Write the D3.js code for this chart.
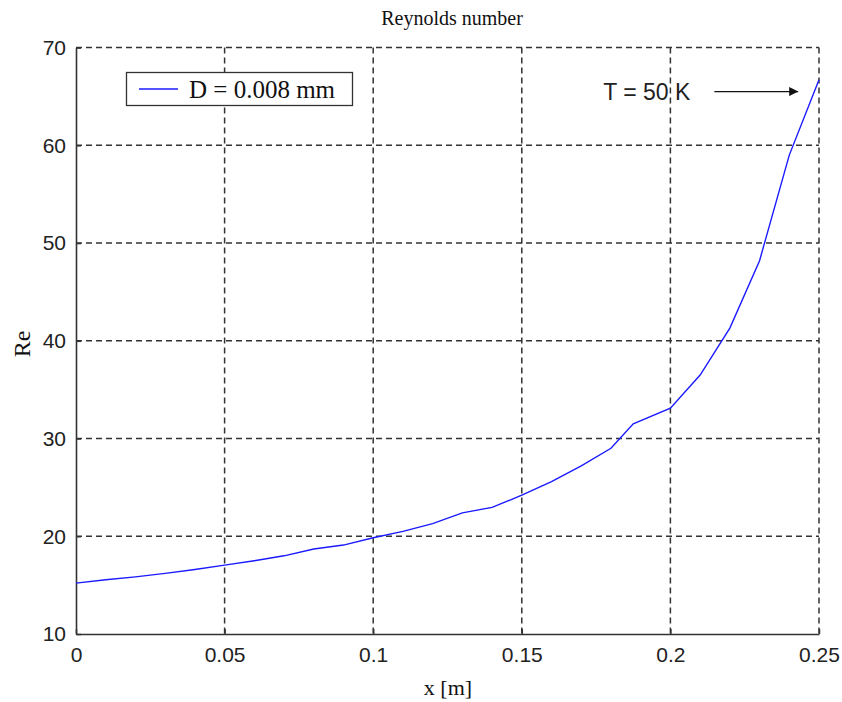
<!DOCTYPE html>
<html>
<head>
<meta charset="utf-8">
<script src="https://cdn.jsdelivr.net/npm/d3@7"></script>
<style>
  html, body { margin: 0; padding: 0; background: #fff; }
  svg { display: block; }
</style>
</head>
<body>
<svg id="chart" width="842" height="702"></svg>
<script>
// Reynolds number along the channel, D = 0.008 mm
const xPos = [0, 0.01, 0.02, 0.03, 0.04, 0.05, 0.06, 0.07, 0.08, 0.09,
              0.10, 0.11, 0.12, 0.13, 0.14, 0.15, 0.16, 0.17, 0.18, 0.1875,
              0.20, 0.21, 0.22, 0.23, 0.24, 0.25];
const reValues = [15.2, 15.55, 15.85, 16.2, 16.6, 17.05, 17.5, 18.0, 18.7, 19.1,
                  19.85, 20.5, 21.3, 22.4, 22.95, 24.2, 25.6, 27.2, 29.0, 31.5,
                  33.1, 36.5, 41.3, 48.2, 59.0, 66.7];
const xTicks = [0, 0.05, 0.1, 0.15, 0.2, 0.25];
const xTickLabels = ["0", "0.05", "0.1", "0.15", "0.2", "0.25"];
const yTicks = [10, 20, 30, 40, 50, 60, 70];
const legendLabel = "D = 0.008 mm";
const noteText = "T = 50 K";
const noteArrowX = [0.2148, 0.2430];
const noteArrowY = 65.5;
const noteTextPos = [0.1774, 64.6];

const svg = d3.select("#chart");
const plotLeft = 76, plotRight = 819, plotTop = 47.6, plotBottom = 634;

const x = d3.scaleLinear().domain([0, 0.25]).range([plotLeft, plotRight]);
const y = d3.scaleLinear().domain([10, 70]).range([plotBottom, plotTop]);

const gridColor = "#333";
const sans = "'Liberation Sans', Arial, sans-serif";
const serif = "'Liberation Serif', 'Times New Roman', serif";

// dashed grid (includes top and right edges)
svg.append("g").selectAll("line").data(xTicks.slice(1)).join("line")
  .attr("x1", d => x(d)).attr("x2", d => x(d))
  .attr("y1", plotTop).attr("y2", plotBottom)
  .attr("stroke", gridColor).attr("stroke-width", 1.5)
  .attr("stroke-dasharray", "6,4");
svg.append("g").selectAll("line").data(yTicks.slice(1)).join("line")
  .attr("x1", plotLeft).attr("x2", plotRight)
  .attr("y1", d => y(d)).attr("y2", d => y(d))
  .attr("stroke", gridColor).attr("stroke-width", 1.5)
  .attr("stroke-dasharray", "6,4");

// axes with inward ticks
const xAxis = d3.axisBottom(x).tickValues(xTicks)
  .tickFormat((d, i) => xTickLabels[i]).tickSizeInner(-5).tickSizeOuter(0).tickPadding(13);
const yAxis = d3.axisLeft(y).tickValues(yTicks)
  .tickFormat(d3.format("d")).tickSizeInner(-5).tickSizeOuter(0).tickPadding(10);

const gx = svg.append("g").attr("transform", `translate(0,${plotBottom})`).call(xAxis);
const gy = svg.append("g").attr("transform", `translate(${plotLeft},0)`).call(yAxis);
[gx, gy].forEach(g => {
  g.select(".domain").attr("stroke", gridColor).attr("stroke-width", 1.6);
  g.selectAll(".tick line").attr("stroke", gridColor).attr("stroke-width", 1.5);
  g.selectAll(".tick text").attr("fill", "#222")
    .style("font-family", sans).style("font-size", "21px");
});
gx.selectAll(".tick text").attr("dy", "0.71em");

// data line
const line = d3.line().x((d, i) => x(xPos[i])).y(d => y(d));
svg.append("path").datum(reValues)
  .attr("d", line)
  .attr("fill", "none").attr("stroke", "#1a1aff").attr("stroke-width", 1.4);

// title and axis labels
svg.append("text").attr("x", 452).attr("y", 25).attr("text-anchor", "middle")
  .style("font-family", serif).style("font-size", "20px").attr("fill", "#111")
  .text("Reynolds number");
svg.append("text").attr("x", 448).attr("y", 695).attr("text-anchor", "middle")
  .style("font-family", serif).style("font-size", "22px").attr("fill", "#111")
  .text("x [m]");
svg.append("text").attr("transform", "translate(30,344) rotate(-90)")
  .attr("text-anchor", "middle")
  .style("font-family", serif).style("font-size", "24px").attr("fill", "#111")
  .text("Re");

// legend
const lg = svg.append("g");
lg.append("rect").attr("x", 126.5).attr("y", 72.5).attr("width", 226).attr("height", 33)
  .attr("fill", "#fff").attr("stroke", "#333").attr("stroke-width", 1.3);
lg.append("line").attr("x1", 139).attr("x2", 178).attr("y1", 89).attr("y2", 89)
  .attr("stroke", "#1a1aff").attr("stroke-width", 1.4);
lg.append("text").attr("x", 189).attr("y", 97.5)
  .style("font-family", serif).style("font-size", "25px").attr("fill", "#111")
  .text(legendLabel);

// annotation with arrow
svg.append("defs").append("marker")
  .attr("id", "arrowHead").attr("viewBox", "0 0 10 10")
  .attr("refX", 10).attr("refY", 5)
  .attr("markerWidth", 14).attr("markerHeight", 9)
  .attr("markerUnits", "userSpaceOnUse")
  .attr("orient", "auto")
  .append("path").attr("d", "M0,0 L10,5 L0,10 Z").attr("fill", "#111");
svg.append("line")
  .attr("x1", x(noteArrowX[0])).attr("x2", x(noteArrowX[1]))
  .attr("y1", y(noteArrowY)).attr("y2", y(noteArrowY))
  .attr("stroke", "#111").attr("stroke-width", 1.4)
  .attr("marker-end", "url(#arrowHead)");
svg.append("text").attr("x", x(noteTextPos[0])).attr("y", y(noteTextPos[1]))
  .style("font-family", sans).style("font-size", "23px").attr("fill", "#222")
  .text(noteText);
</script>
</body>
</html>
